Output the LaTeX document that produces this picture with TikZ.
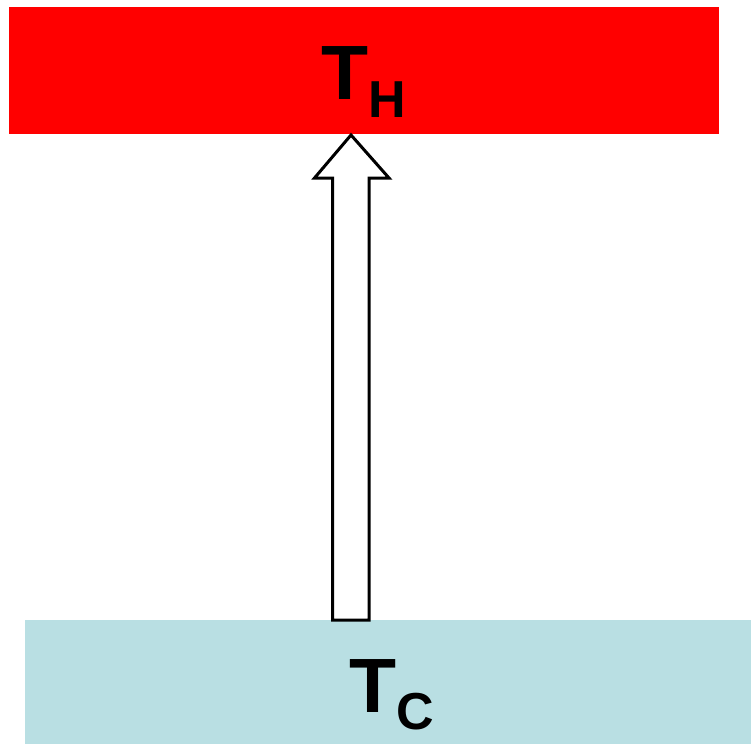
\documentclass[tikz,border=0pt]{standalone}
\usepackage{fontspec}
\setmainfont{Liberation Sans}
\definecolor{hotred}{RGB}{255,0,0}
\definecolor{coldblue}{RGB}{185,223,227}
\tikzset{
  reservoir/.style={inner sep=0pt, outer sep=0pt},
  templabel/.style={inner sep=0pt, font=\fontsize{77}{77}\selectfont\bfseries},
  heatarrow/.style={draw=black, line width=3pt, fill=white, line join=miter}
}
\begin{document}
\begin{tikzpicture}[x=1pt, y=-1pt]
	\useasboundingbox (0,0) rectangle (751,744);
	
	% Reservoirs
	\fill[hotred] (9,7) rectangle (719,134);
	\fill[coldblue] (25,620) rectangle (751,744);
	\coordinate (hot) at (351,135);
	\coordinate (cold) at (351,620);
	
	% Heat flow
	\draw[heatarrow] (cold) ++(-18.5,0) -- ++(0,-442) -- ++(-18,0) -- (hot) -- (389,178) -- ++(-20,0) -- ++(0,442) -- cycle;
	
	% Labels
	\node[templabel, anchor=base west] (th) at (321,99) {T\raisebox{-18pt}{\fontsize{52}{52}\selectfont H}};
	\node[templabel, anchor=base west] (tc) at (349,712) {T\raisebox{-17pt}{\fontsize{52}{52}\selectfont C}};
\end{tikzpicture}
\end{document}
